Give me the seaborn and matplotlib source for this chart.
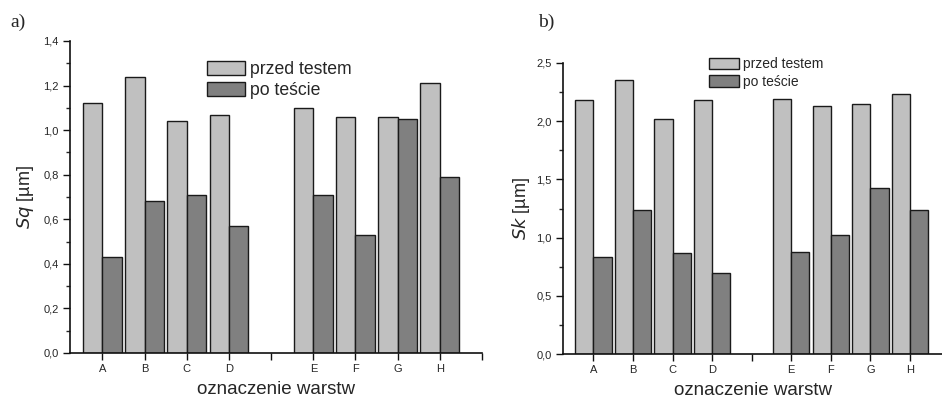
import numpy as np
import pandas as pd
import matplotlib.pyplot as plt
import seaborn as sns
from matplotlib.ticker import MultipleLocator, FuncFormatter

# ── data ──────────────────────────────────────────────────
layers = ["A", "B", "C", "D", "E", "F", "G", "H"]
order = ["A", "B", "C", "D", " ", "E", "F", "G", "H"]   # blank slot = gap between D and E
series = ["przed testem", "po teście"]

sq_before = [1.12, 1.24, 1.04, 1.07, 1.10, 1.06, 1.06, 1.21]
sq_after = [0.43, 0.68, 0.71, 0.57, 0.71, 0.53, 1.05, 0.79]

sk_before = [2.18, 2.35, 2.02, 2.18, 2.19, 2.13, 2.15, 2.23]
sk_after = [0.83, 1.24, 0.87, 0.70, 0.88, 1.02, 1.43, 1.24]

df = pd.DataFrame({
    "warstwa": layers * 2,
    "seria": [series[0]] * len(layers) + [series[1]] * len(layers),
    "Sq": sq_before + sq_after,
    "Sk": sk_before + sk_after,
})

# ── style ─────────────────────────────────────────────────
sns.set_theme(style="ticks")
plt.rcParams["font.family"] = ["Liberation Sans", "DejaVu Sans"]
palette = {"przed testem": "#c0c0c0", "po teście": "#808080"}
comma = FuncFormatter(lambda v, p: f"{v:.1f}".replace(".", ","))

fig = plt.figure(figsize=(9.42, 3.99), dpi=100)
W, H = 942, 399
ax1 = fig.add_axes([70 / W, 1 - 353 / H, 412 / W, 312 / H])
ax2 = fig.add_axes([563 / W, 1 - 354 / H, 379 / W, 291 / H])


def draw(ax, col, ylabel, ymax, major, xmax, nticks, ypad,
         leg_pos, leg_fs, hl, hh, ls):
    sns.barplot(data=df, x="warstwa", y=col, hue="seria", order=order,
                hue_order=series, palette=palette, width=0.92, gap=0,
                edgecolor="#1a1a1a", linewidth=1.0, saturation=1, ax=ax,
                errorbar=None)
    ax.set_ylim(0, ymax)
    ax.set_xlim(-0.77, xmax)
    ax.yaxis.set_major_locator(MultipleLocator(major))
    ax.yaxis.set_minor_locator(MultipleLocator(major / 2))
    ax.yaxis.set_major_formatter(comma)
    labels = order + [""] * (nticks - len(order))
    ax.set_xticks(range(nticks))
    ax.set_xticklabels(labels)
    ax.tick_params(axis="both", which="major", direction="out", length=5,
                   width=1, labelsize=8, color="#111111", pad=3)
    ax.tick_params(axis="y", which="minor", direction="out", length=3, width=1)
    for s in ["top", "right"]:
        ax.spines[s].set_visible(False)
    for s in ["left", "bottom"]:
        ax.spines[s].set_linewidth(1.2)
        ax.spines[s].set_color("#111111")
    ax.set_xlabel("oznaczenie warstw", fontsize=13.5, labelpad=5)
    ax.set_ylabel(ylabel, fontsize=13, labelpad=ypad)
    ax.legend(loc="upper left", bbox_to_anchor=leg_pos, frameon=False,
              fontsize=leg_fs, handlelength=hl, handleheight=hh,
              handletextpad=0.3, labelspacing=ls, borderpad=0,
              borderaxespad=0)


draw(ax1, "Sq", r"$\mathit{Sq}$ [µm]", 1.4, 0.2, 9.0, 10, 5.5,
     (0.333, 0.935), 12.7, 2.15, 0.85, 0.2)
draw(ax2, "Sk", r"$\mathit{Sk}$ [µm]", 2.5, 0.5, 8.81, 9, 3,
     (0.385, 1.02), 10, 2.15, 0.9, 0.26)

fig.text(10 / W, 1 - 22 / H, "a)", fontsize=14, va="center",
         family=["Liberation Serif", "DejaVu Serif"])
fig.text(538 / W, 1 - 22 / H, "b)", fontsize=14, va="center",
         family=["Liberation Serif", "DejaVu Serif"])

fig.savefig("out.png", dpi=100)
